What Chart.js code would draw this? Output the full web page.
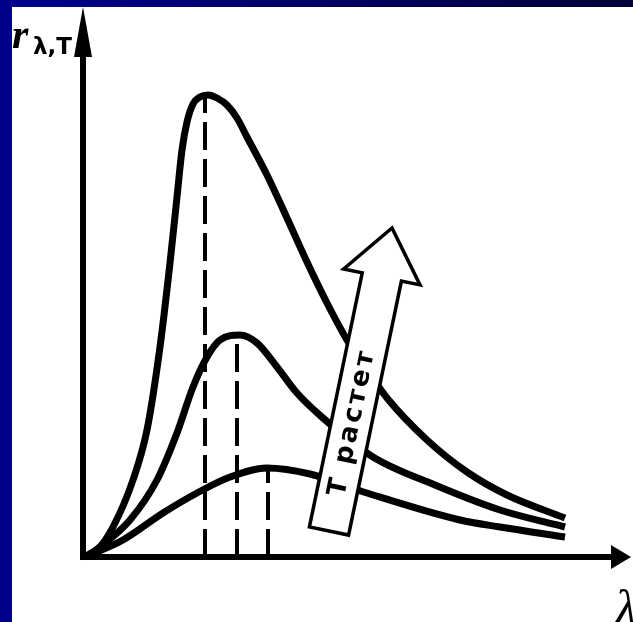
<!DOCTYPE html>
<html>
<head>
<meta charset="utf-8">
<script src="https://cdn.jsdelivr.net/npm/chart.js@4/dist/chart.umd.min.js"></script>
<style>
  html, body { margin: 0; padding: 0; background: #fff; }
  #frame { position: relative; width: 633px; height: 622px; background: #fff; overflow: hidden; }
  #top { position: absolute; left: 0; top: 0; width: 633px; height: 7px; background: linear-gradient(to right, #000090, #000038); }
  #left { position: absolute; left: 0; top: 0; width: 12px; height: 622px; background: #000088; }
  #chart { position: absolute; left: 12px; top: 7px; }
</style>
</head>
<body>
<div id="frame">
  <canvas id="chart" width="621" height="615"></canvas>
  <div id="top"></div>
  <div id="left"></div>
</div>
<script>
// wavelength (arbitrary units) and spectral emissivity
const hotX = [0.02, 0.15, 0.30, 0.50, 0.64, 0.77, 0.87, 0.94, 0.99, 1.04, 1.10, 1.17, 1.25, 1.34, 1.44, 1.54, 1.64, 1.84, 2.04, 2.24, 2.44, 2.64, 2.84, 3.04, 3.44, 3.84, 4.24, 4.82]
const hotY = [0.00, 0.08, 0.30, 0.77, 1.27, 2.10, 2.94, 3.60, 4.07, 4.35, 4.53, 4.60, 4.62, 4.59, 4.52, 4.39, 4.20, 3.82, 3.39, 2.95, 2.54, 2.17, 1.87, 1.59, 1.17, 0.85, 0.62, 0.39]

const midX = [0.02, 0.17, 0.47, 0.74, 0.94, 1.10, 1.24, 1.37, 1.57, 1.74, 1.94, 2.14, 2.40, 2.90, 3.52, 4.17, 4.82]
const midY = [0.00, 0.10, 0.37, 0.77, 1.24, 1.70, 2.00, 2.17, 2.22, 2.14, 1.90, 1.64, 1.39, 1.00, 0.72, 0.47, 0.30]

const coldX = [0.02, 0.40, 0.80, 1.14, 1.47, 1.84, 2.27, 2.84, 3.77, 4.17, 4.82]
const coldY = [0.00, 0.17, 0.44, 0.64, 0.80, 0.89, 0.83, 0.64, 0.37, 0.30, 0.20]

// maxima of the three curves (dashed drop lines)
const peakX = [1.22, 1.54, 1.85]
const peakY = [4.61, 2.22, 0.89]

// "T растет" arrow: base and tip in data units
const arrowBase = [2.46, 0.26]
const arrowTip = [3.09, 3.29]
const arrowText = "T растет"

const yLabel = "r"
const yLabelSub = "λ,T"
const xLabel = "λ"

const pts = (xs, ys) => xs.map((v, i) => ({ x: v, y: ys[i] }))

const curve = (xs, ys) => ({
    data: pts(xs, ys),
    showLine: true,
    borderColor: "#000",
    borderWidth: 7,
    cubicInterpolationMode: "monotone",
    pointRadius: 0,
    clip: false
})

const dropLine = i => ({
    data: [{ x: peakX[i], y: 0 }, { x: peakX[i], y: peakY[i] }],
    showLine: true,
    borderColor: "#000",
    borderWidth: 4,
    borderDash: [28, 9],
    pointRadius: 0
})

const decor = {
    id: "decor",
    afterDatasetsDraw(chart) {
        const { ctx, chartArea: a, scales: { x, y } } = chart
        ctx.save()
        ctx.fillStyle = "#000"
        ctx.strokeStyle = "#000"

        // axes with arrow heads
        ctx.lineWidth = 6
        ctx.lineCap = "butt"
        ctx.beginPath()
        ctx.moveTo(a.left, a.bottom + 3)
        ctx.lineTo(a.left, a.top + 40)
        ctx.moveTo(a.left - 3, a.bottom)
        ctx.lineTo(a.right - 5, a.bottom)
        ctx.stroke()
        ctx.beginPath()
        ctx.moveTo(a.left, a.top)
        ctx.lineTo(a.left - 9, a.top + 50)
        ctx.lineTo(a.left + 9, a.top + 50)
        ctx.closePath()
        ctx.fill()
        ctx.beginPath()
        ctx.moveTo(a.right + 8, a.bottom)
        ctx.lineTo(a.right - 12, a.bottom - 12)
        ctx.lineTo(a.right - 12, a.bottom + 12)
        ctx.closePath()
        ctx.fill()

        // hollow arrow
        const bx = x.getPixelForValue(arrowBase[0]), by = y.getPixelForValue(arrowBase[1])
        const tx = x.getPixelForValue(arrowTip[0]), ty = y.getPixelForValue(arrowTip[1])
        const len = Math.hypot(tx - bx, ty - by)
        ctx.translate(bx, by)
        ctx.rotate(Math.atan2(ty - by, tx - bx))
        ctx.beginPath()
        ctx.moveTo(0, -20)
        ctx.lineTo(len - 50, -20)
        ctx.lineTo(len - 50, -39)
        ctx.lineTo(len, 0)
        ctx.lineTo(len - 50, 39)
        ctx.lineTo(len - 50, 20)
        ctx.lineTo(0, 20)
        ctx.closePath()
        ctx.fillStyle = "#fff"
        ctx.fill()
        ctx.lineWidth = 3.5
        ctx.lineJoin = "miter"
        ctx.stroke()
        ctx.fillStyle = "#000"
        ctx.font = 'bold 26px "DejaVu Sans"'
        ctx.textAlign = "center"
        ctx.textBaseline = "middle"
        ctx.letterSpacing = "3px"
        ctx.fillText(arrowText, 111, 1)
        ctx.restore()

        // axis labels
        ctx.save()
        ctx.fillStyle = "#000"
        ctx.textAlign = "left"
        ctx.textBaseline = "alphabetic"
        ctx.font = 'italic bold 42px "Liberation Serif"'
        ctx.fillText(yLabel, a.left - 71, a.top + 41)
        ctx.font = 'bold 23px "DejaVu Sans"'
        ctx.fillText(yLabelSub, a.left - 50, a.top + 47)
        ctx.font = 'italic 50px "Liberation Serif"'
        ctx.fillText(xLabel, a.right - 8, a.bottom + 68)
        ctx.restore()
    }
}

new Chart(document.getElementById("chart"), {
    type: "scatter",
    data: {
        datasets: [
            curve(hotX, hotY),
            curve(midX, midY),
            curve(coldX, coldY),
            dropLine(0),
            dropLine(1),
            dropLine(2)
        ]
    },
    options: {
        responsive: false,
        animation: false,
        layout: { padding: { left: 71, right: 10, top: 0, bottom: 65 } },
        scales: {
            x: { type: "linear", min: 0, max: 5.4, display: false },
            y: { type: "linear", min: 0, max: 5.5, display: false }
        },
        plugins: { legend: { display: false }, tooltip: { enabled: false } }
    },
    plugins: [decor]
})
</script>
</body>
</html>
